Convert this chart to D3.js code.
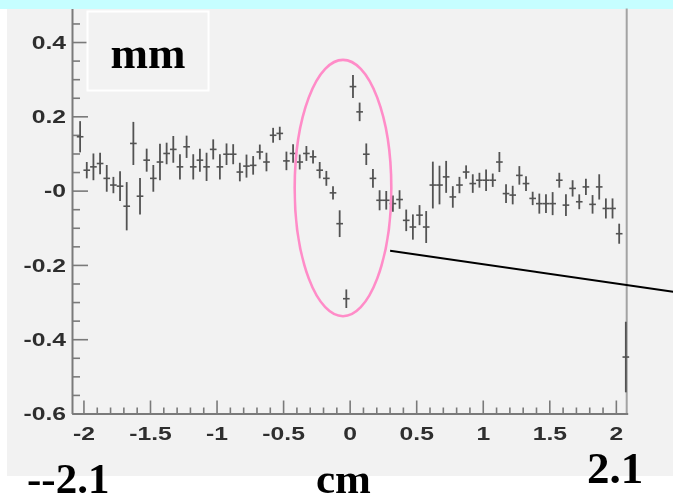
<!DOCTYPE html>
<html>
<head>
<meta charset="utf-8">
<script src="https://cdn.jsdelivr.net/npm/d3@7"></script>
<style>
  html, body { margin: 0; padding: 0; background: #ffffff; }
  svg { display: block; }
</style>
</head>
<body>
<svg id="chart" width="673" height="502"></svg>
<script>
// Bin centres (cm) of the profile
const binCenters = [
  -2.025, -1.975, -1.925, -1.875, -1.825, -1.775, -1.725, -1.675, -1.625, -1.575,
  -1.525, -1.475, -1.425, -1.375, -1.325, -1.275, -1.225, -1.175, -1.125, -1.075,
  -1.025, -0.975, -0.925, -0.875, -0.825, -0.775, -0.725, -0.675, -0.625, -0.575,
  -0.525, -0.475, -0.425, -0.375, -0.325, -0.275, -0.225, -0.175, -0.125, -0.075,
  -0.025, 0.025, 0.075, 0.125, 0.175, 0.225, 0.275, 0.325, 0.375, 0.425,
  0.475, 0.525, 0.575, 0.625, 0.675, 0.725, 0.775, 0.825, 0.875, 0.925,
  0.975, 1.025, 1.075, 1.125, 1.175, 1.225, 1.275, 1.325, 1.375, 1.425,
  1.475, 1.525, 1.575, 1.625, 1.675, 1.725, 1.775, 1.825, 1.875, 1.925,
  1.975, 2.025, 2.075
];

// Mean residual per bin (mm)
const residuals = [
  0.145, 0.055, 0.064, 0.073, 0.033, 0.015, 0.012, -0.042, 0.127, -0.015,
  0.082, 0.033, 0.077, 0.100, 0.111, 0.064, 0.118, 0.064, 0.082, 0.064,
  0.111, 0.064, 0.098, 0.098, 0.050, 0.066, 0.068, 0.104, 0.077, 0.149,
  0.154, 0.080, 0.100, 0.077, 0.100, 0.091, 0.055, 0.033, -0.006, -0.089,
  -0.291, 0.280, 0.212, 0.098, 0.033, -0.026, -0.026, -0.035, -0.024, -0.080,
  -0.098, -0.066, -0.098, 0.015, 0.015, 0.037, -0.017, 0.015, 0.050, 0.019,
  0.028, 0.028, 0.028, 0.077, -0.008, -0.012, 0.041, 0.019, -0.021, -0.035,
  -0.035, -0.035, 0.028, -0.039, 0.006, -0.030, 0.010, -0.037, 0.010, -0.048,
  -0.048, -0.116, -0.448
];

// Error on the mean per bin (mm)
const errors = [
  0.042, 0.022, 0.036, 0.029, 0.036, 0.022, 0.040, 0.065, 0.058, 0.049,
  0.031, 0.036, 0.049, 0.029, 0.036, 0.034, 0.030, 0.034, 0.031, 0.038,
  0.027, 0.034, 0.029, 0.027, 0.025, 0.031, 0.025, 0.020, 0.025, 0.020,
  0.018, 0.025, 0.025, 0.020, 0.020, 0.018, 0.022, 0.020, 0.018, 0.036,
  0.025, 0.031, 0.025, 0.029, 0.025, 0.027, 0.025, 0.022, 0.025, 0.029,
  0.034, 0.027, 0.043, 0.063, 0.052, 0.043, 0.029, 0.022, 0.018, 0.025,
  0.020, 0.029, 0.018, 0.027, 0.025, 0.025, 0.025, 0.020, 0.018, 0.027,
  0.025, 0.031, 0.020, 0.029, 0.022, 0.020, 0.022, 0.025, 0.034, 0.027,
  0.027, 0.027, 0.095
];

const binHalfWidth = 0.025;

// Axis ticks
const xMajorTicks = [-2, -1.5, -1, -0.5, 0, 0.5, 1, 1.5, 2];
const xMajorLabels = ["-2", "-1.5", "-1", "-0.5", "0", "0.5", "1", "1.5", "2"];
const yMajorTicks = [-0.6, -0.4, -0.2, 0, 0.2, 0.4];
const yMajorLabels = ["-0.6", "-0.4", "-0.2", "-0", "0.2", "0.4"];

// Annotations (data units)
const ellipseCenter = [-0.05, 0.007];
const ellipseRadii = [0.363, 0.345];
const pointerLine = [[0.304, -0.162], [2.43, -0.272]];

// Unit captions
const boxLabel = "mm";
const axisLabel = "cm";
const leftEdgeLabel = "--2.1";
const rightEdgeLabel = "2.1";

const svg = d3.select("#chart");
const W = 673, H = 502;

const x = d3.scaleLinear().domain([-2.086, 2.089]).range([72, 627.7]);
const y = d3.scaleLinear().domain([-0.6, 0.49]).range([413.5, 8.6]);

const defs = svg.append("defs");
defs.append("filter").attr("id", "soft")
  .attr("x", "-5%").attr("y", "-5%").attr("width", "110%").attr("height", "110%")
  .append("feGaussianBlur").attr("stdDeviation", 0.55);

// Page background, top band and pad
svg.append("rect").attr("width", W).attr("height", H).attr("fill", "#ffffff");
svg.append("rect").attr("x", 0).attr("y", 0).attr("width", W).attr("height", 9).attr("fill", "#c6feff");
svg.append("rect").attr("x", 7).attr("y", 9).attr("width", W - 7).attr("height", 467).attr("fill", "#f2f2f2");

const plot = svg.append("g").attr("filter", "url(#soft)");

// Right frame edge
plot.append("line")
  .attr("x1", x.range()[1] - 1).attr("x2", x.range()[1] - 1)
  .attr("y1", y.range()[1]).attr("y2", y.range()[0])
  .attr("stroke", "#a3a3a3").attr("stroke-width", 2);

const axisColor = "#7a7a7a";
const labelScale = 1.3;

// Y axis: major ticks with labels
const yAxis = d3.axisLeft(y)
  .tickValues(yMajorTicks)
  .tickFormat((d, i) => yMajorLabels[i])
  .tickSize(-16).tickSizeOuter(0).tickPadding(6);
const gy = plot.append("g").attr("transform", `translate(${x.range()[0]},0)`).call(yAxis);
gy.select(".domain").attr("stroke", axisColor).attr("stroke-width", 2);
gy.selectAll(".tick line").attr("stroke", axisColor).attr("stroke-width", 1.6);
gy.selectAll(".tick text")
  .attr("font-family", "'Liberation Sans', Arial, sans-serif")
  .attr("font-weight", "bold").attr("font-size", 19).attr("fill", "#2e2e2e")
  .attr("x", -6 / labelScale)
  .attr("transform", `scale(${labelScale},1)`);

// Y axis: minor ticks every 0.05
const yMinor = d3.range(-0.6, 0.46, 0.05).filter(v => !yMajorTicks.some(t => Math.abs(t - v) < 1e-6));
const gym = plot.append("g").attr("transform", `translate(${x.range()[0]},0)`)
  .call(d3.axisLeft(y).tickValues(yMinor).tickFormat("").tickSize(-8).tickSizeOuter(0));
gym.select(".domain").remove();
gym.selectAll(".tick line").attr("stroke", axisColor).attr("stroke-width", 1.6);

// X axis: major ticks with labels
const xAxis = d3.axisBottom(x)
  .tickValues(xMajorTicks)
  .tickFormat((d, i) => xMajorLabels[i])
  .tickSize(-13).tickSizeOuter(0).tickPadding(13);
const gx = plot.append("g").attr("transform", `translate(0,${y.range()[0]})`).call(xAxis);
gx.select(".domain").attr("stroke", axisColor).attr("stroke-width", 2);
gx.selectAll(".tick line").attr("stroke", axisColor).attr("stroke-width", 1.6);
gx.selectAll(".tick text")
  .attr("font-family", "'Liberation Sans', Arial, sans-serif")
  .attr("font-weight", "bold").attr("font-size", 19).attr("fill", "#2e2e2e")
  .attr("transform", `scale(${labelScale},1)`);

// X axis: minor ticks every 0.1
const xMinor = d3.range(-2.0, 2.06, 0.1).filter(v => !xMajorTicks.some(t => Math.abs(t - v) < 1e-6));
const gxm = plot.append("g").attr("transform", `translate(0,${y.range()[0]})`)
  .call(d3.axisBottom(x).tickValues(xMinor).tickFormat("").tickSize(-6).tickSizeOuter(0));
gxm.select(".domain").remove();
gxm.selectAll(".tick line").attr("stroke", axisColor).attr("stroke-width", 1.6);

// Profile points with error bars
const points = binCenters.map((c, i) => ({ c, v: residuals[i], e: errors[i] }));
const markColor = "#525252";
const pts = plot.append("g").selectAll("g").data(points).join("g");
pts.append("line")
  .attr("x1", d => x(d.c)).attr("x2", d => x(d.c))
  .attr("y1", d => y(d.v - d.e)).attr("y2", d => y(d.v + d.e))
  .attr("stroke", markColor).attr("stroke-width", 1.8);
pts.append("line")
  .attr("x1", d => x(d.c - binHalfWidth)).attr("x2", d => x(d.c + binHalfWidth))
  .attr("y1", d => y(d.v)).attr("y2", d => y(d.v))
  .attr("stroke", markColor).attr("stroke-width", 1.6);

// Units box
svg.append("rect")
  .attr("x", 87.5).attr("y", 11.5).attr("width", 121).attr("height", 79)
  .attr("fill", "none").attr("stroke", "#ffffff").attr("stroke-width", 2);
svg.append("text")
  .attr("x", 148).attr("y", 68).attr("text-anchor", "middle")
  .attr("font-family", "'Liberation Serif', 'Times New Roman', serif")
  .attr("font-weight", "bold").attr("font-size", 45).attr("fill", "#000")
  .text(boxLabel);

// Highlight around the central structure
svg.append("ellipse")
  .attr("cx", x(ellipseCenter[0])).attr("cy", y(ellipseCenter[1]))
  .attr("rx", x(ellipseCenter[0] + ellipseRadii[0]) - x(ellipseCenter[0]))
  .attr("ry", y(ellipseCenter[1]) - y(ellipseCenter[1] + ellipseRadii[1]))
  .attr("fill", "none").attr("stroke", "#ff8cc8").attr("stroke-width", 2.6);

// Pointer line leaving the highlight
svg.append("line")
  .attr("x1", x(pointerLine[0][0])).attr("y1", y(pointerLine[0][1]))
  .attr("x2", x(pointerLine[1][0])).attr("y2", y(pointerLine[1][1]))
  .attr("stroke", "#000").attr("stroke-width", 2);

// Captions under the pad
const serif = "'Liberation Serif', 'Times New Roman', serif";
svg.append("text").attr("x", 27).attr("y", 493)
  .attr("font-family", serif).attr("font-weight", "bold").attr("font-size", 43)
  .attr("fill", "#000").text(leftEdgeLabel);
svg.append("text").attr("x", 316).attr("y", 493)
  .attr("font-family", serif).attr("font-weight", "bold").attr("font-size", 43)
  .attr("fill", "#000").text(axisLabel);
svg.append("text").attr("x", 587).attr("y", 483)
  .attr("font-family", serif).attr("font-weight", "bold").attr("font-size", 45)
  .attr("fill", "#000").text(rightEdgeLabel);
</script>
</body>
</html>
